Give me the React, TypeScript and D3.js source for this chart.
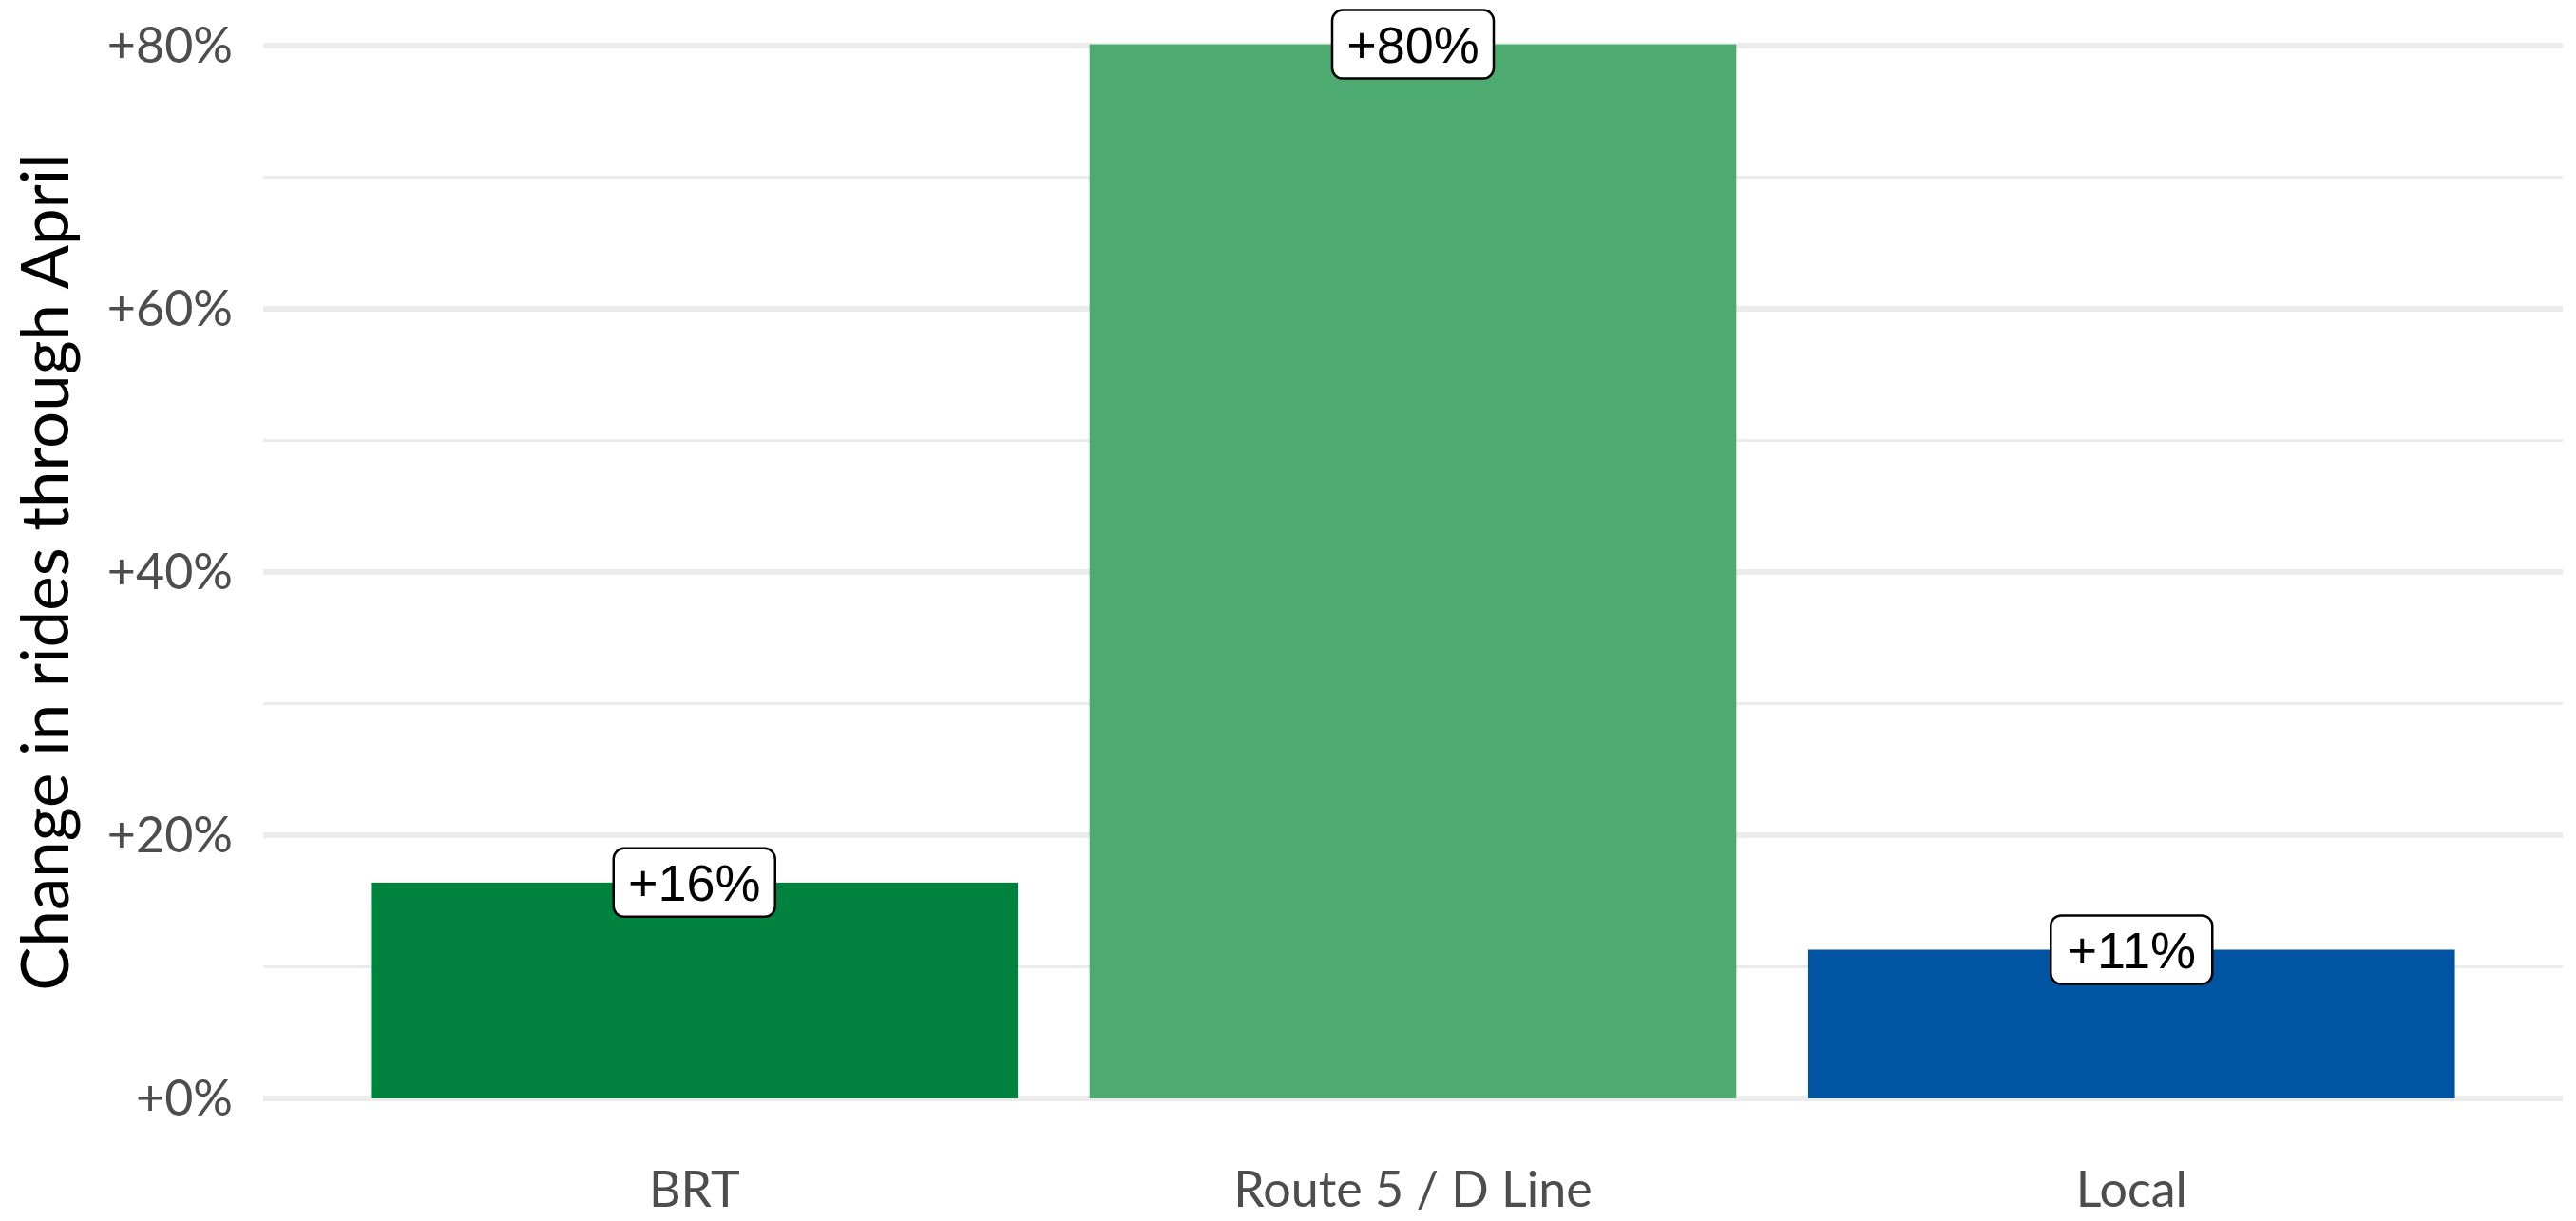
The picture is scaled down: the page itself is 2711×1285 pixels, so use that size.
import React from "react";
import * as d3 from "d3";

const categories = ["BRT", "Route 5 / D Line", "Local"];
const values = [16.4, 80.1, 11.3];
const labels = ["+16%", "+80%", "+11%"];
const colors = ["#00823f", "#4daa71", "#0054a2"];
const majorTicks = [0, 20, 40, 60, 80];
const minorTicks = [10, 30, 50, 70];
const yTitle = "Change in rides through April";

const W = 2711;
const H = 1285;
const panel = { left: 277, right: 2697, top: 0, bottom: 1285 };

export default function App() {
  const x = d3
    .scaleBand<string>()
    .domain(categories)
    .range([panel.left, panel.right])
    .paddingInner(0.1)
    .paddingOuter(0.15);
  const y = d3.scaleLinear().domain([0, 80]).range([1156, 48]);
  const tickFont = "Lato, 'Open Sans', sans-serif";

  return (
    <div style={{ position: "fixed", left: 0, top: 0 }}>
      <svg width={W} height={H} style={{ display: "block", background: "#fff" }}>
        {minorTicks.map((t) => (
          <line key={"mi" + t} x1={panel.left} x2={panel.right} y1={y(t)} y2={y(t)} stroke="#ebebeb" strokeWidth={3} />
        ))}
        {majorTicks.map((t) => (
          <line key={"ma" + t} x1={panel.left} x2={panel.right} y1={y(t)} y2={y(t)} stroke="#ebebeb" strokeWidth={6} />
        ))}
        {categories.map((c, i) => (
          <rect key={c} x={x(c)} width={x.bandwidth()} y={y(values[i])} height={y(0) - y(values[i])} fill={colors[i]} />
        ))}
        {majorTicks.map((t) => (
          <text key={"yt" + t} x={245} y={y(t)} dy="0.35em" textAnchor="end" fontFamily={tickFont} fontSize={52} fill="#4d4d4d">
            {"+" + t + "%"}
          </text>
        ))}
        {categories.map((c) => (
          <text key={"xt" + c} x={(x(c) as number) + x.bandwidth() / 2} y={1270} textAnchor="middle" fontFamily={tickFont} fontSize={52} fill="#4d4d4d">
            {c}
          </text>
        ))}
        <text transform={`translate(72,${(y(0) + y(80)) / 2}) rotate(-90)`} textAnchor="middle" fontFamily={tickFont} fontSize={69} fill="#000">
          {yTitle}
        </text>
        {categories.map((c, i) => {
          const cx = (x(c) as number) + x.bandwidth() / 2;
          const cy = y(values[i]);
          return (
            <g key={"lb" + c}>
              <rect x={cx - 85} y={cy - 36} width={170} height={72} rx={11} ry={11} fill="#fff" stroke="#000" strokeWidth={2.5} />
              <text x={cx} y={cy} dy="0.36em" textAnchor="middle" fontFamily="'Liberation Sans', Arial, sans-serif" fontSize={54} fill="#000">
                {labels[i]}
              </text>
            </g>
          );
        })}
      </svg>
    </div>
  );
}
